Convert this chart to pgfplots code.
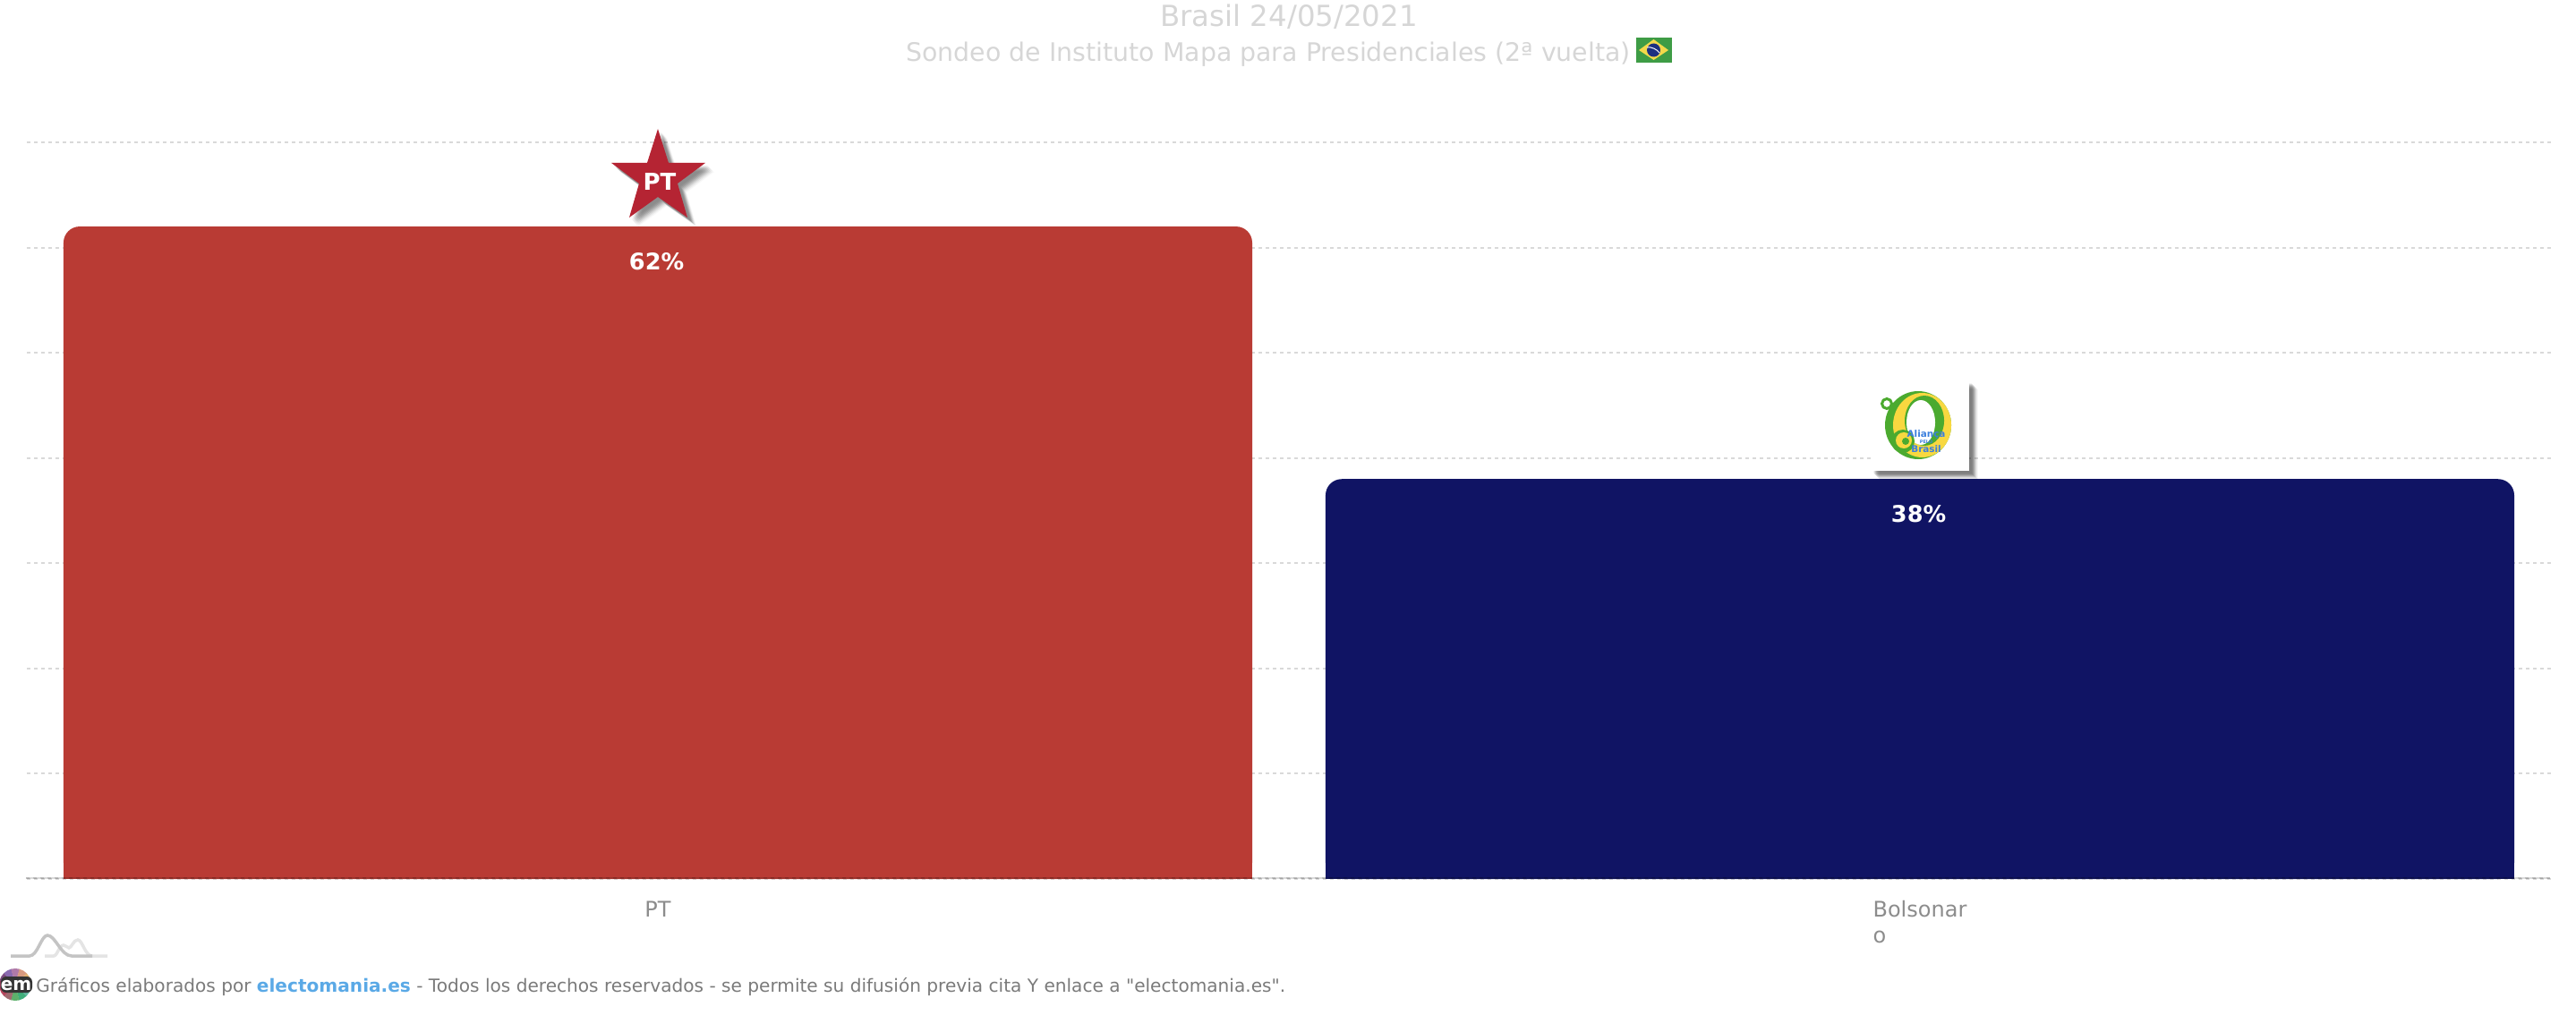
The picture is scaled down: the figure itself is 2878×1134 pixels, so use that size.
\documentclass[border=0pt]{standalone}
\usepackage{pgfplots}
\pgfplotsset{compat=1.18}
\usepackage{fontspec}
\setmainfont{DejaVu Sans}
\newfontfamily\plainf{DejaVu Sans}
\tikzset{HTML/.code={\definecolor{tmpc}{HTML}{#1}\pgfkeysalso{/tikz/color=tmpc}}}
\definecolor{ptred}{HTML}{B93B34}
\definecolor{bolblue}{HTML}{101464}
\definecolor{gridc}{HTML}{D9D9D9}
\definecolor{starred}{HTML}{B52433}
\definecolor{ticktxt}{HTML}{8C8C8C}
\definecolor{foot}{HTML}{7A7A7A}
\definecolor{linkc}{HTML}{5AA9E6}
\definecolor{titlec}{HTML}{D6D6D6}
\definecolor{lgreen}{HTML}{4BAA2F}
\definecolor{lyellow}{HTML}{F8D840}
\definecolor{lblue}{HTML}{3B7FDD}
\pgfplotstableread{
x y
0 62
}\ptdata
\pgfplotstableread{
x y
1 38
}\boldata
\begin{document}
\begin{tikzpicture}
\begin{axis}[
  at={(15pt,-491pt)}, anchor=south west,
  scale only axis, width=1410pt, height=411.5pt,
  xmin=-0.5, xmax=1.5, ymin=0, ymax=70,
  axis line style={draw=none},
  xtick={0,1}, xticklabels={PT,{Bolsonar\\o}},
  xtick pos=lower, ytick pos=left,
  xtick style={draw=none},
  x tick label style={align=left, font=\fontsize{12}{14.5}\selectfont, text=ticktxt, anchor=north, inner sep=0pt, outer sep=0pt, yshift=-8pt},
  ytick={0,10,...,70}, yticklabels={},
  ytick style={draw=none},
  ymajorgrids, y grid style={gridc, line width=1pt, dash pattern=on 2pt off 2pt},
  clip=false,
  ybar, bar shift=0pt, bar width=664pt,
  /pgf/number format/assume math mode=true,
  nodes near coords={\pgfmathprintnumber{\pgfplotspointmeta}\%},
  every node near coord/.append style={font=\bfseries\fontsize{12.8}{15}\selectfont, text=white, anchor=base, xshift=-0.7pt, yshift=-24pt},
]
\addplot[fill=ptred, draw=none, rounded corners=9pt] table[x=x,y=y] {\ptdata};
\addplot[fill=bolblue, draw=none, rounded corners=9pt] table[x=x,y=y] {\boldata};
\end{axis}
\begin{scope}[x=0.5pt,y=-0.5pt]
\path[use as bounding box] (0,0) rectangle (2878,1134);
% square the feet of the bars
\fill[ptred] (71,955) rectangle (1399,982);
\fill[bolblue] (1481,955) rectangle (2809,982);
% baseline
\draw[black, opacity=.14, line width=1pt] (29,981) -- (2849,981);
\draw[black, opacity=.12, line width=1pt, dash pattern=on 2pt off 2pt] (29,981) -- (2849,981);
% titles
\node[anchor=base, inner sep=0, text=titlec, font=\fontsize{16.2}{18}\selectfont] at (1440,30) {Brasil 24/05/2021};
\node[anchor=base west, inner sep=0, text=titlec, font=\fontsize{14.2}{15}\selectfont] at (1012,69) {Sondeo de Instituto Mapa para Presidenciales (2ª vuelta)};
% flag
\fill[HTML=3E9C45] (1828,42) rectangle (1868,70);
\fill[HTML=F2D94A] (1831,56) -- (1847.5,44) -- (1864,56) -- (1847.5,67) -- cycle;
\fill[HTML=1C3080] (1847.5,56) circle (7.5);
\draw[white, line width=.5pt] (1840,53) .. controls (1845,52) and (1851,55) .. (1854,59);
% star
\foreach \o/\s in {10/.03,9/.05,8/.07,7/.09,6/.1,5/.1,4/.08,3/.05}{
 \fill[black,opacity=\s] (735+\o,144+\o) -- (747+\o,182+\o) -- (788+\o,182+\o) -- (757+\o,205+\o) -- (768+\o,243+\o) -- (735+\o,220+\o) -- (703+\o,243+\o) -- (714+\o,205+\o) -- (683+\o,182+\o) -- (723+\o,182+\o) -- cycle;}
\fill[starred] (735,144) -- (747,182) -- (788,182) -- (757,205) -- (768,243) -- (735,220) -- (703,243) -- (714,205) -- (683,182) -- (723,182) -- cycle;
\node[anchor=base, inner sep=0, text=white, font=\bfseries\fontsize{13}{15}\selectfont] at (737,213) {PT};
% Alianca logo
\foreach \o/\s in {10/.03,9/.05,8/.08,7/.1,6/.12,5/.12,4/.1,3/.05}{
 \fill[black,opacity=\s] (2090+\o,425+\o) rectangle (2200+\o,526+\o);}
\fill[white] (2090,425) rectangle (2200,526);
\fill[lgreen] (2143,475) ellipse (37 and 38);
\fill[lyellow] (2147.5,475) ellipse (32.5 and 36);
\fill[lgreen] (2150,470) ellipse (22 and 28);
\fill[white] (2146,472) ellipse (16 and 25);
\draw[lgreen, line width=1.5pt, fill=white] (2108,451) circle (5.5);
\fill[lgreen] (2126,493) circle (13);
\fill[lyellow] (2127,492) circle (9);
\fill[lgreen] (2129,493) circle (4);
\node[anchor=base, text=lblue, font=\bfseries\fontsize{5.2}{6}\selectfont, inner sep=0] at (2152,488) {Aliança};
\node[anchor=base, text=lblue, font=\bfseries\fontsize{2.5}{3}\selectfont, inner sep=0] at (2152,495) {PELO};
\node[anchor=base, text=lblue, font=\bfseries\fontsize{5.2}{6}\selectfont, inner sep=0] at (2152,505) {Brasil};
% mountain logo
\draw[HTML=E4E4E4, line width=1.75pt] (50,1068) -- (60,1068) .. controls (64,1068) and (66,1056) .. (71,1056) .. controls (74,1056) and (75,1059) .. (77,1059) .. controls (80,1059) and (82,1050) .. (87,1050) .. controls (92,1050) and (95,1068) .. (103,1068) -- (120,1068);
\draw[HTML=C4C4C4, line width=1.75pt] (12,1068) -- (33,1068) .. controls (42,1068) and (46,1045) .. (53,1045) .. controls (62,1045) and (68,1068) .. (80,1068) -- (103,1068);
% em logo
\foreach \a/\c in {60/3FAE7A,90/5DB06B,120/A06A70,150/B5455C,180/8A3A55,210/7B4A80,240/8A6AB0,270/B07AA8,300/D89A80,330/E0B070,0/B8C070,30/60B8A0}{
 \fill[HTML=\c] (17,1100) -- ++(\a-15:18) arc (\a-15:\a+16:18) -- cycle;}
\fill[black!80, rounded corners=3pt] (1,1091) rectangle (36,1109);
\node[text=white, font=\bfseries\fontsize{10}{12}\selectfont, inner sep=0, anchor=base] at (18,1106) {em};
% footer
\node[anchor=base west, inner sep=0, text=foot, font=\fontsize{10.05}{12}\selectfont] at (40,1108) {Gráficos elaborados por \textcolor{linkc}{\bfseries electomania.es} - Todos los derechos reservados - se permite su difusión previa cita Y enlace a {\plainf"}electomania.es{\plainf"}.};
\end{scope}
\end{tikzpicture}
\end{document}
